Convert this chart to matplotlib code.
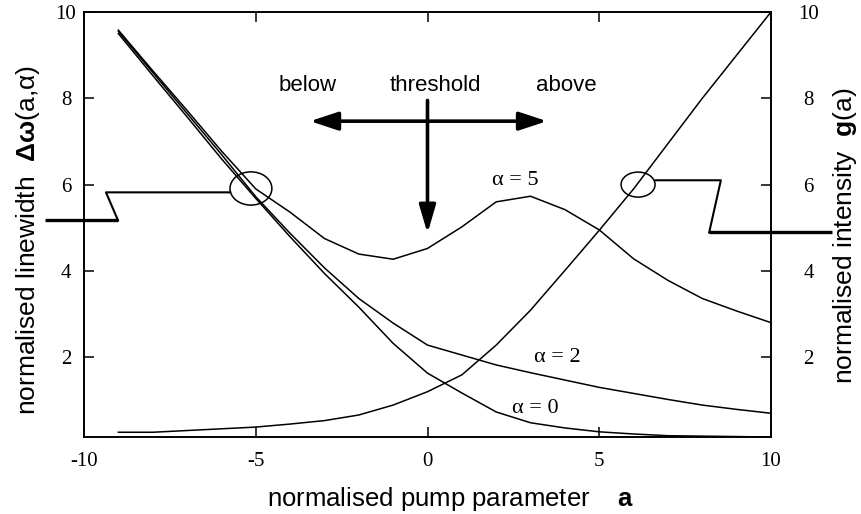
import numpy as np
import matplotlib
matplotlib.use('Agg')
import matplotlib.pyplot as plt
from matplotlib.patches import Ellipse, FancyArrowPatch

# linewidth / intensity vs pump parameter
a_vals = [-9, -8, -7, -6, -5, -4, -3, -2, -1, 0, 1, 2, 3, 4, 5, 6, 7, 8, 9, 10]
lw_alpha0 = [9.50, 8.53, 7.57, 6.60, 5.68, 4.79, 3.94, 3.16, 2.32, 1.63,
             1.17, 0.73, 0.48, 0.36, 0.27, 0.22, 0.18, 0.17, 0.16, 0.15]
lw_alpha2 = [9.55, 8.60, 7.65, 6.70, 5.72, 4.87, 4.07, 3.36, 2.79, 2.28,
             2.05, 1.82, 1.64, 1.47, 1.30, 1.16, 1.02, 0.89, 0.79, 0.70]
lw_alpha5 = [9.58, 8.64, 7.72, 6.78, 5.90, 5.36, 4.75, 4.39, 4.27, 4.52,
             5.02, 5.60, 5.73, 5.42, 4.95, 4.28, 3.78, 3.36, 3.07, 2.80]
intensity = [0.26, 0.26, 0.30, 0.34, 0.38, 0.45, 0.53, 0.66, 0.89, 1.20,
             1.59, 2.28, 3.09, 4.01, 4.94, 5.90, 6.95, 8.00, 9.00, 10.0]

xticks = [-10, -5, 0, 5, 10]
yticks = [2, 4, 6, 8, 10]

plt.rcParams['axes.unicode_minus'] = False
plt.rcParams['mathtext.fontset'] = 'custom'
plt.rcParams['mathtext.rm'] = 'Liberation Sans'
plt.rcParams['mathtext.bf'] = 'Liberation Sans:bold'
plt.rcParams['mathtext.it'] = 'Liberation Sans:italic'

sans = 'Liberation Sans'
serif = 'Liberation Serif'

fig = plt.figure(figsize=(8.61, 5.14), dpi=100)
ax = fig.add_axes([84/861, 1 - 437/514, (771-84)/861, (437-12)/514])
ax2 = ax.twinx()

for y in [lw_alpha0, lw_alpha2, lw_alpha5, intensity]:
    ax.plot(a_vals, y, color='black', lw=1.1)

ax.set_xlim(-10, 10)
ax.set_ylim(0.15, 10)
ax2.set_ylim(0.15, 10)

ax.set_xticks(xticks)
ax.set_yticks(yticks)
ax2.set_yticks(yticks)
ax.tick_params(axis='x', direction='in', length=7, width=1.1, top=True, pad=11,
               labelsize=15)
ax.tick_params(axis='y', direction='in', length=7, width=1.1, pad=13, labelsize=15)
ax2.tick_params(axis='y', direction='in', length=7, width=1.1, pad=27, labelsize=15)
for lbl in ax.get_xticklabels() + ax.get_yticklabels() + ax2.get_yticklabels():
    lbl.set_family(serif)
for lbl in ax.get_yticklabels() + ax2.get_yticklabels():
    lbl.set_ha('center')
for sp in list(ax.spines.values()) + list(ax2.spines.values()):
    sp.set_linewidth(1.2)

# alpha labels
ax.text(2.55, 6.1, 'α = 5', family=serif, fontsize=16, ha='center', va='center')
ax.text(3.77, 2.0, 'α = 2', family=serif, fontsize=16, ha='center', va='center')
ax.text(3.13, 0.8, 'α = 0', family=serif, fontsize=16, ha='center', va='center')

# below / threshold / above
ax.text(-3.48, 8.16, 'below', family=sans, fontsize=16, ha='center', va='baseline')
ax.text(0.23, 8.16, 'threshold', family=sans, fontsize=16, ha='center', va='baseline')
ax.text(4.04, 8.16, 'above', family=sans, fontsize=16, ha='center', va='baseline')

harrow = FancyArrowPatch((-3.42, 7.47), (3.48, 7.47),
                         arrowstyle='<|-|>,head_length=0.85,head_width=0.28',
                         mutation_scale=20, lw=2.6, color='black',
                         shrinkA=0, shrinkB=0)
ax.add_patch(harrow)
varrow = FancyArrowPatch((0, 7.95), (0, 4.87),
                         arrowstyle='-|>,head_length=0.85,head_width=0.25',
                         mutation_scale=20, lw=2.6, color='black',
                         shrinkA=0, shrinkB=0)
ax.add_patch(varrow)

# circles marking which curve belongs to which axis
ax.add_patch(Ellipse((-5.14, 5.91), 1.22, 0.77, fill=False, lw=1.1, color='black'))
ax.add_patch(Ellipse((6.13, 6.0), 0.99, 0.58, fill=False, lw=1.1, color='black'))

ax.plot([-5.75, -9.36, -9.01], [5.82, 5.82, 5.17], color='black', lw=1.5, clip_on=False)
ax.plot([-9.01, -11.14], [5.17, 5.17], color='black', lw=2.4, clip_on=False,
        solid_capstyle='butt')
ax.plot([6.64, 8.54, 8.2], [6.1, 6.1, 4.89], color='black', lw=1.5, clip_on=False)
ax.plot([8.2, 11.77], [4.89, 4.89], color='black', lw=2.4, clip_on=False,
        solid_capstyle='butt')

# axis labels
fig.text(451/861, 1 - 506/514, r'normalised pump parameter    $\mathbf{a}$',
         family=sans, fontsize=18.5, ha='center', va='baseline')
fig.text(28/861, 1 - 240/514, r'normalised linewidth  $\mathbf{\Delta\omega}$(a,α)',
         family=sans, fontsize=19, rotation=90, ha='center', va='center')
fig.text(845/861, 1 - 236/514, r'normalised intensity  $\mathbf{g}$(a)',
         family=sans, fontsize=19, rotation=90, ha='center', va='center')

fig.savefig('out.png', dpi=100)
